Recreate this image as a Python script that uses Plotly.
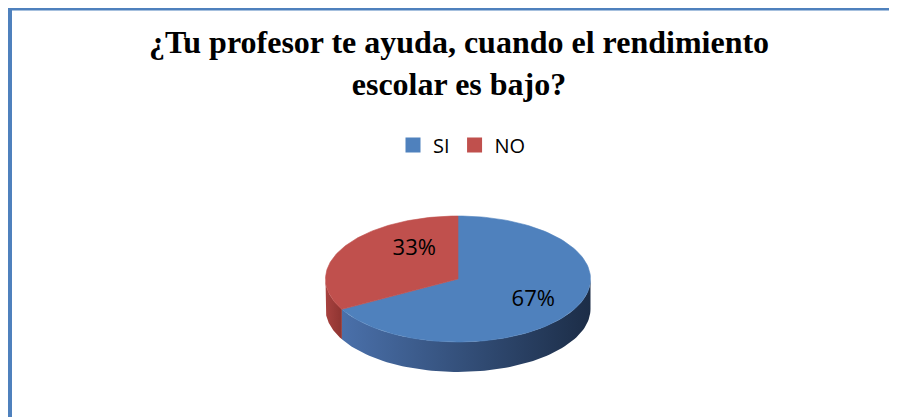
import numpy as np
import plotly.graph_objects as go

# data
categories = ["SI", "NO"]
values = [67, 33]
colors_top = ["#4f81bd", "#c0504d"]
colors_side = [["#4a70aa", "#1c2d47"], ["#a8423f", "#8e3431"]]

title = "<b>¿Tu profesor te ayuda, cuando el rendimiento<br>escolar es bajo?</b>"

# the page puts the figure 8px in from the window corner, so axes are set
# to window pixels (y grows downward)
off = 8
cx, cy = 458, 279
a, b = 132.5, 63
depth = 30


def pt(theta_deg, dy=0.0):
    t = np.radians(theta_deg)
    return cx + a * np.sin(t), cy - b * np.cos(t) + dy


fig = go.Figure()

total = sum(values)
starts = np.cumsum([0] + values[:-1]) / total * 360
ends = np.cumsum(values) / total * 360

# side walls (front half only: clockwise angles 90..270)
for i, cat in enumerate(categories):
    s, e = max(starts[i], 90), min(ends[i], 270)
    if e <= s:
        continue
    th = np.linspace(s, e, 80)
    ux, uy = pt(th)
    lx, ly = pt(th[::-1], depth)
    fig.add_trace(go.Scatter(
        x=np.concatenate([ux, lx, ux[:1]]), y=np.concatenate([uy, ly, uy[:1]]),
        mode="lines", fill="toself", line=dict(width=0),
        fillgradient=dict(type="horizontal",
                          colorscale=[[0, colors_side[i][0]], [1, colors_side[i][1]]]),
        showlegend=False, hoverinfo="skip"))

# top faces
for i, cat in enumerate(categories):
    th = np.linspace(starts[i], ends[i], 120)
    ex, ey = pt(th)
    fig.add_trace(go.Scatter(
        x=np.concatenate([[cx], ex, [cx]]), y=np.concatenate([[cy], ey, [cy]]),
        mode="lines", fill="toself", fillcolor=colors_top[i],
        line=dict(width=0.6, color=colors_top[i]),
        showlegend=False, hoverinfo="skip"))

# percentage labels
label_shift = [0, 24]
label_r = [0.66, 0.57]
for i, cat in enumerate(categories):
    mid = (starts[i] + ends[i]) / 2 + label_shift[i]
    t = np.radians(mid)
    fig.add_trace(go.Scatter(
        x=[cx + a * label_r[i] * np.sin(t)], y=[cy - b * label_r[i] * np.cos(t)],
        mode="text", text=[f"{values[i] / total:.0%}"],
        textfont=dict(family="Open Sans", size=22, color="black"),
        showlegend=False, hoverinfo="skip"))

# legend entries
for i, cat in enumerate(categories):
    fig.add_trace(go.Scatter(
        x=[None], y=[None], mode="markers", name=cat,
        marker=dict(symbol="square", size=15, color=colors_top[i])))

W, H = 897, 417
fig.update_xaxes(range=[off, W + off], visible=False, fixedrange=True)
fig.update_yaxes(range=[H + off, off], visible=False, fixedrange=True)


def px(x):
    return (x - off) / W


def py(y):
    return 1 - (y - off) / H


fig.update_layout(
    width=W, height=H,
    margin=dict(l=0, r=0, t=0, b=0),
    paper_bgcolor="white", plot_bgcolor="white",
    title=dict(text=title, x=px(459), xanchor="center", y=py(53), yanchor="top",
               font=dict(family="Liberation Serif", size=32, color="black")),
    legend=dict(orientation="h", x=px(462), xanchor="center", y=py(145), yanchor="middle",
                font=dict(family="Open Sans", size=20, color="black"),
                itemwidth=30, tracegroupgap=0),
    shapes=[
        dict(type="line", xref="paper", yref="paper", x0=px(9.5), x1=px(9.5), y0=0, y1=py(7),
             line=dict(color="#4f81bd", width=5)),
        dict(type="line", xref="paper", yref="paper", x0=px(7), x1=1, y0=py(8.8), y1=py(8.8),
             line=dict(color="#4f81bd", width=3.5)),
    ],
)

fig.write_html("out.html")
